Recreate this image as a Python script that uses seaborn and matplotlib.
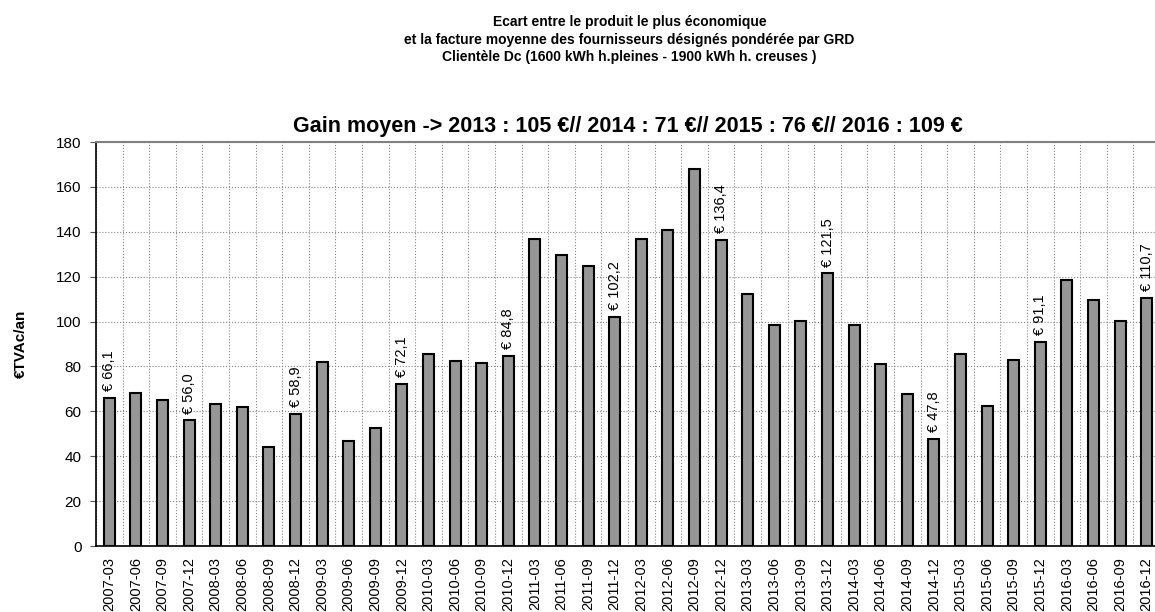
import numpy as np
import pandas as pd
import matplotlib.pyplot as plt
import seaborn as sns

# Trimestres
periodes = [f"{a}-{m}" for a in range(2007, 2017) for m in ("03", "06", "09", "12")]

# Ecart (EUR TVAc/an)
ecart = [66.1, 68.2, 65.0, 56.0, 63.1, 62.1, 44.2, 58.9,
         82.0, 46.7, 52.4, 72.1, 85.7, 82.6, 81.7, 84.8,
         136.6, 129.5, 124.7, 102.2, 136.6, 140.6, 167.9, 136.4,
         112.5, 98.4, 100.4, 121.5, 98.4, 81.1, 67.6, 47.8,
         85.6, 62.2, 82.9, 91.1, 118.3, 109.5, 100.1, 110.7]

# barres avec étiquette
idx_labels = [0, 3, 7, 11, 15, 19, 23, 27, 31, 35, 39]

df = pd.DataFrame({"periode": periodes, "ecart": ecart})

sns.set_theme(style="white", rc={"text.color": "black", "axes.labelcolor": "black",
                                 "xtick.color": "black", "ytick.color": "black"})
plt.rcParams["font.family"] = ["Liberation Sans", "DejaVu Sans"]

fig = plt.figure(figsize=(11.55, 6.12), dpi=100)
ax = fig.add_axes([96 / 1155, 66 / 612, 1064 / 1155, 404 / 612])

sns.barplot(data=df, x="periode", y="ecart", color="#969696", saturation=1,
            width=0.42, edgecolor="black", linewidth=1.5, ax=ax, zorder=3)

ax.set_ylim(0, 180)
ax.set_xlim(-0.5, len(periodes) - 0.5)
ax.set_yticks(np.arange(0, 181, 20))
ax.set_xticks(np.arange(-0.5, len(periodes), 1), minor=True)
ax.tick_params(axis="x", which="major", length=0, labelrotation=90, labelsize=10.5, pad=8)
ax.tick_params(axis="x", which="minor", length=4, width=0.8, color="#555555", direction="out")
ax.tick_params(axis="y", which="major", length=4.5, width=0.8, color="#555555",
               labelsize=11, left=True, pad=6)
ax.grid(axis="y", which="major", linestyle=":", color="#888888", linewidth=0.8, zorder=0)
ax.grid(axis="x", which="minor", linestyle=":", color="#888888", linewidth=0.8, zorder=0)
ax.grid(axis="x", which="major", visible=False)

for s in ("left", "bottom"):
    ax.spines[s].set_color("black")
    ax.spines[s].set_linewidth(1.2)
ax.spines["top"].set_color("#808080")
ax.spines["top"].set_linewidth(1.5)
ax.spines["right"].set_visible(False)

for i in idx_labels:
    v = ecart[i]
    ax.text(i, v + 3, f"€ {v:.1f}".replace(".", ","), rotation=90,
            ha="center", va="bottom", fontsize=10.5, zorder=4)

ax.set_xlabel("")
ax.set_ylabel("€TVAc/an", fontsize=11, fontweight="bold", labelpad=20)

fig.text(0.545, 0.975, "Ecart entre le produit le plus économique\n"
         "et la facture moyenne des fournisseurs désignés pondérée par GRD\n"
         "Clientèle Dc (1600 kWh h.pleines - 1900 kWh h. creuses )",
         ha="center", va="top", fontsize=10, fontweight="bold", linespacing=1.3)
ax.set_title("Gain moyen -> 2013 : 105 €// 2014 : 71 €// 2015 : 76 €// 2016 : 109 €",
             fontsize=15.5, fontweight="bold", pad=7, x=0.5)

fig.savefig("out.png", dpi=100)
